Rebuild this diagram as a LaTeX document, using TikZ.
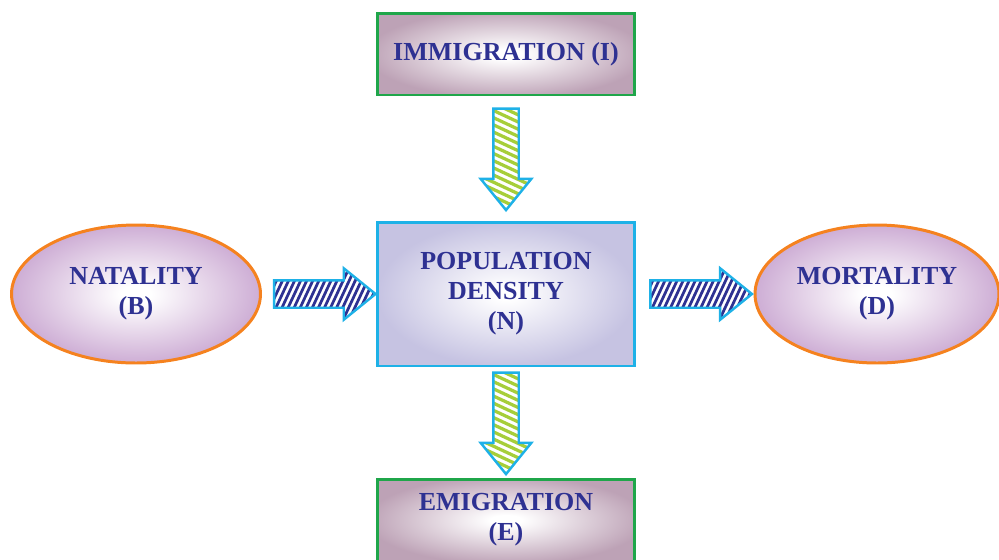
\documentclass[tikz,border=0pt]{standalone}
\usepackage{fontspec}
\setmainfont{Liberation Serif}
\usetikzlibrary{shapes.geometric,shapes.arrows,positioning,calc}
\definecolor{popink}{HTML}{2E3192}
\definecolor{popgreen}{HTML}{1FA64A}
\definecolor{popcyan}{HTML}{1EB1E7}
\definecolor{poporange}{HTML}{F5821F}
\definecolor{poplime}{HTML}{A6CE39}
\definecolor{popmauve}{HTML}{BDA2B6}
\definecolor{poplilac}{HTML}{C6C3E2}
\definecolor{popviolet}{HTML}{C9A6D1}
\pgfdeclareradialshading{mauveglow}{\pgfpointorigin}{color(0bp)=(white); color(3bp)=(white); color(27bp)=(popmauve); color(50bp)=(popmauve)}
\pgfdeclareradialshading{lilacglow}{\pgfpointorigin}{color(0bp)=(white); color(2bp)=(white); color(25bp)=(poplilac); color(50bp)=(poplilac)}
\pgfdeclareradialshading{violetglow}{\pgfpointorigin}{color(0bp)=(white); color(3bp)=(white); color(27bp)=(popviolet); color(50bp)=(popviolet)}
\tikzset{
  poptext/.style={align=center,text=popink,font=\fontsize{14.8}{17}\selectfont\bfseries},
  flowbox/.style={poptext,draw=popgreen,line width=1.7pt,shading=mauveglow,minimum width=5.16cm},
  densbox/.style={poptext,draw=popcyan,line width=1.7pt,shading=lilacglow,minimum width=5.16cm,minimum height=2.88cm},
  rateoval/.style={poptext,ellipse,draw=poporange,line width=1.7pt,shading=violetglow,minimum height=2.76cm},
  % stripes: colour, angle, spacing, width
  stripes/.style n args={4}{path picture={
    \foreach \k in {-14,...,14}
      \draw[#1,line width=#4]
        ($(path picture bounding box.center)+(#2+90:\k*#3)+(#2:2cm)$) --
        ($(path picture bounding box.center)+(#2+90:\k*#3)+(#2+180:2cm)$);}},
  blockarrow/.style={single arrow,draw=popcyan,line width=1.4pt,fill=white,single arrow tip angle=78,minimum height=2.03cm},
  rarrow/.style={blockarrow,inner sep=0.25cm,single arrow head extend=0.24cm,xshift=-0.14cm,
    stripes={popink}{65}{0.11cm}{0.055cm}},
  darrow/.style={blockarrow,shape border rotate=270,inner sep=0.23cm,single arrow head extend=0.25cm,yshift=0.14cm,
    stripes={poplime}{-25}{0.13cm}{0.065cm}},
}
\begin{document}
\begin{tikzpicture}[x=0.02cm,y=-0.02cm]
\useasboundingbox (0,0) rectangle (999,559);

\node[flowbox,minimum height=1.64cm] (imm) at (506,54) {IMMIGRATION (I)};
\node[densbox] (pop) at (506,294) {POPULATION\\DENSITY\\(N)};
\node[flowbox,minimum height=1.64cm] (emi) at (506,520) {EMIGRATION\\(E)};
\node[rateoval,minimum width=4.98cm] (nat) at (136,294) {NATALITY\\(B)};
\node[rateoval,minimum width=4.88cm] (mort) at (877,294) {MORTALITY\\(D)};

\path (imm.south) -- node[darrow] (arrI) {} (pop.north);
\path (pop.south) -- node[darrow] (arrE) {} (emi.north);
\path (nat.east) -- node[rarrow,pos=0.54] (arrB) {} (pop.west);
\path (pop.east) -- node[rarrow,pos=0.54] (arrD) {} (mort.west);
\end{tikzpicture}
\end{document}
